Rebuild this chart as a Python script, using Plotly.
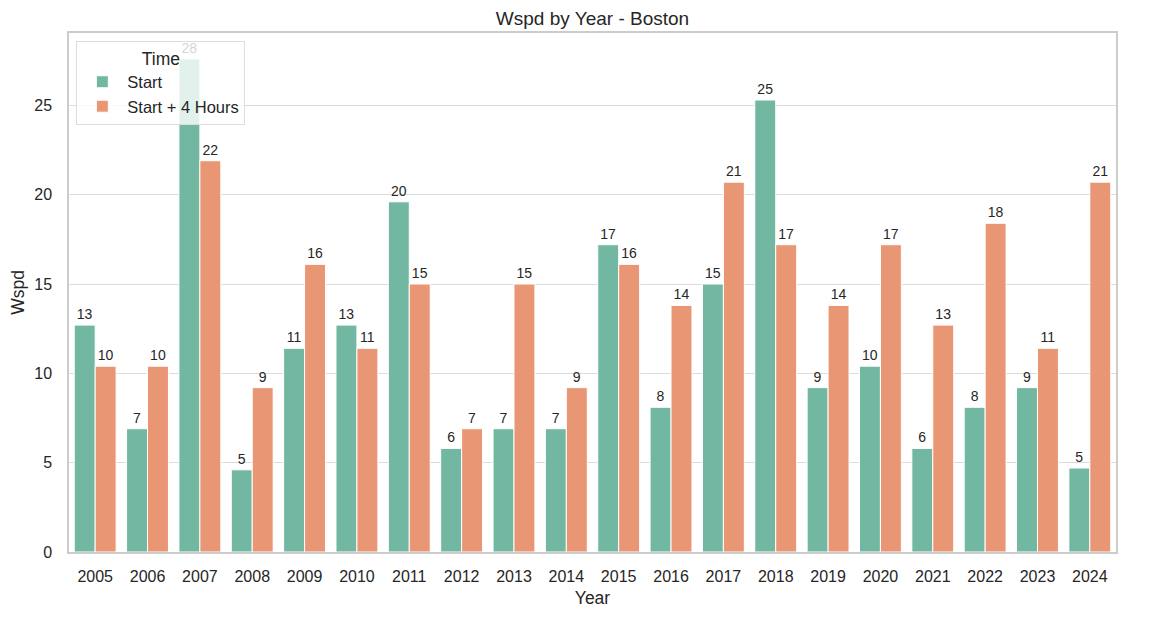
import plotly.graph_objects as go

years = [str(y) for y in range(2005, 2025)]

# wind speed at start time
start_vals = [12.7, 6.9, 27.6, 4.6, 11.4, 12.7, 19.6, 5.8, 6.9, 6.9,
              17.2, 8.1, 15.0, 25.3, 9.2, 10.4, 5.8, 8.1, 9.2, 4.7]
# wind speed 4 hours later
later_vals = [10.4, 10.4, 21.9, 9.2, 16.1, 11.4, 15.0, 6.9, 15.0, 9.2,
              16.1, 13.8, 20.7, 17.2, 13.8, 17.2, 12.7, 18.4, 11.4, 20.7]

series_names = ["Start", "Start + 4 Hours"]
colors = ["rgb(114,183,161)", "rgb(233,150,117)"]

font_family = "Liberation Sans, Arial, sans-serif"
dark = "#262626"

fig = go.Figure()
for name, vals, col in zip(series_names, [start_vals, later_vals], colors):
    fig.add_trace(go.Bar(
        x=years, y=vals, name=name,
        marker=dict(color=col, line=dict(color="white", width=1)),
        text=vals, texttemplate="%{y:.0f}", textposition="outside",
        constraintext="none", cliponaxis=False,
        textfont=dict(size=14, color=dark, family=font_family),
    ))

fig.update_layout(
    width=1152, height=628,
    barmode="group", bargap=0.2, bargroupgap=0,
    plot_bgcolor="white", paper_bgcolor="white",
    margin=dict(l=61, r=44, t=25, b=84),
    font=dict(family=font_family, color=dark, size=16),
    title=dict(text="Wspd by Year - Boston", x=0.5, xanchor="center",
               xref="paper", yref="container", y=0.984, yanchor="middle",
               font=dict(size=19, color=dark)),
    legend=dict(
        title=dict(text="Time", side="top center", font=dict(size=17.5)),
        x=0.007, y=0.985, xanchor="left", yanchor="top",
        bgcolor="rgba(255,255,255,0.8)", bordercolor="#dddddd", borderwidth=1,
        font=dict(size=16.5), itemwidth=40, tracegroupgap=0,
    ),
)
fig.update_xaxes(
    title=dict(text="Year", font=dict(size=17.5), standoff=8),
    range=[-0.5, 19.5], showgrid=False, automargin=False,
    showline=True, mirror=True, linecolor="#cccccc", linewidth=1.5,
    ticks="", tickfont=dict(size=16), ticklabelstandoff=9,
)
fig.update_yaxes(
    title=dict(text="Wspd", font=dict(size=17.5), standoff=10),
    range=[0, 29.05], tickvals=[0, 5, 10, 15, 20, 25], automargin=False,
    showgrid=True, gridcolor="#dcdcdc", gridwidth=1, zeroline=False,
    showline=True, mirror=True, linecolor="#cccccc", linewidth=1.5,
    ticks="", tickfont=dict(size=16), ticklabelstandoff=12,
)

fig.write_html("out.html")
